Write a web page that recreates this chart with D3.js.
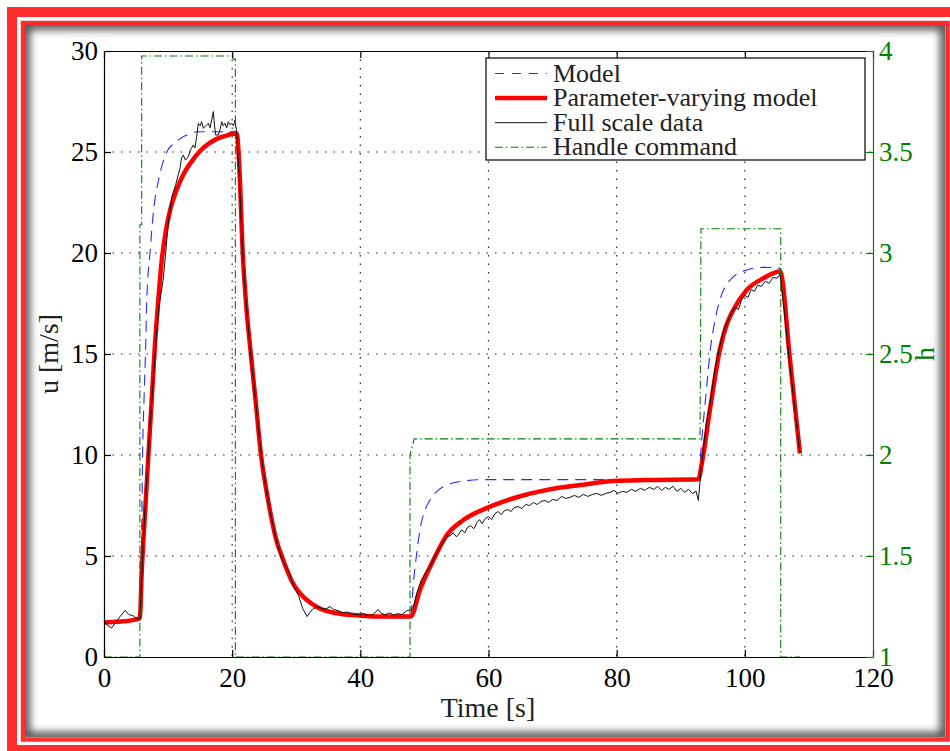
<!DOCTYPE html>
<html>
<head>
<meta charset="utf-8">
<script src="https://cdn.jsdelivr.net/npm/d3@7"></script>
<style>
  html, body { margin: 0; padding: 0; background: #fff; }
  svg { display: block; }
</style>
</head>
<body>
<div id="chart"></div>
<script>
// time axis ticks and the two y-axis ticks
const timeTicks = [0, 20, 40, 60, 80, 100, 120];
const speedTicks = [0, 5, 10, 15, 20, 25, 30];
const handleTicks = [1, 1.5, 2, 2.5, 3, 3.5, 4];

// Model (blue dashed)
const modelT = [0, 2, 4, 5.6, 5.88, 6.03, 6.24, 6.55, 6.66, 7.18, 7.7, 8.5, 9.3, 9.78, 10.8, 11.86, 13.0, 14.47, 20.72,
  21.14, 21.65, 22.17, 22.95, 23.7, 24.5, 25.5, 26.8, 27.85, 29.4, 31.5, 33.5, 36.1, 39.7, 43.9, 47.86,
  48.27, 48.8, 49.3, 50.1, 50.87, 52.2, 53.5, 56.07, 59.7, 70, 80, 92.75,
  93.27, 94.05, 94.55, 95.35, 96.1, 97.7, 100.3, 102.9, 105.5, 107.05, 108.6];
const modelU = [1.75, 1.78, 1.8, 1.85, 6.1, 10.2, 12.7, 16.0, 17.6, 20.0, 22.0, 23.6, 24.6, 25.0, 25.4, 25.65, 25.85, 26.0, 26.0,
  24.1, 20.0, 17.5, 14.9, 12.55, 10.0, 7.96, 5.9, 4.9, 3.7, 2.86, 2.43, 2.18, 2.06, 2.0, 2.0,
  3.65, 5.13, 6.29, 7.28, 7.77, 8.27, 8.51, 8.71, 8.78, 8.78, 8.78, 8.8,
  10.74, 13.38, 15.03, 16.68, 17.67, 18.66, 19.16, 19.29, 19.24, 14.7, 10.08];

// Parameter-varying model (red)
const pvmT = [0, 2, 4, 5.6, 5.88, 6.4, 6.91, 7.44, 7.96, 8.47, 9.0, 9.6, 10.3, 11.3, 12.4, 13.6, 15.0, 16.3,
  17.6, 19.0, 20.2, 20.72, 21.14, 21.65, 22.17, 22.95, 23.7, 24.5, 25.5, 26.8, 27.85, 29.4, 31.5, 33.5,
  36.1, 39.7, 43.9, 47.86, 49.3, 51.4, 53.5, 56.07, 59.98, 63.9, 69.1, 74.3, 79.5, 84.7, 92.75,
  93.3, 94.55, 96.1, 97.1, 98.2, 100.3, 102.9, 105.5, 107.05, 108.6];
const pvmU = [1.7, 1.75, 1.8, 1.92, 4.15, 7.1, 9.9, 12.7, 15.5, 17.65, 19.6, 21.0, 22.1, 23.1, 23.9, 24.5, 25.05, 25.4,
  25.65, 25.8, 25.9, 25.9, 24.1, 20.0, 17.5, 14.9, 12.55, 10.0, 7.96, 5.9, 4.9, 3.7, 2.86, 2.43,
  2.18, 2.06, 2.0, 2.0, 3.32, 4.8, 6.04, 6.78, 7.41, 7.86, 8.27, 8.51, 8.71, 8.76, 8.8,
  9.6, 12.23, 15.2, 16.4, 17.18, 18.17, 18.75, 19.08, 14.7, 10.08];

// Full scale data (black)
const dataT = [0, 0.6, 1.2, 1.8, 2.5, 3.28, 3.9, 4.5, 5.1, 5.6, 6.14, 6.66, 7.2, 7.7, 8.2, 8.6, 9.2, 9.6, 10.0,
  10.56, 11.2, 11.86, 12.1, 12.38, 12.7, 13.16, 13.5, 13.94, 14.2, 14.46, 14.72, 15.0, 15.24, 15.5, 15.9,
  16.28, 16.55, 16.8, 17.06, 17.25, 17.43, 17.84, 18.1, 18.37, 18.6, 18.88, 19.15, 19.4, 19.65, 19.93,
  20.2, 20.44, 20.7, 21.1, 21.6, 22.1, 22.6, 23.0, 23.6, 24.2, 24.7, 25.3, 26.0, 26.8, 27.6, 28.3, 28.9,
  29.6, 30.4, 31.0, 31.7, 32.1, 32.5, 33.3, 34.0, 34.6, 35.3, 35.8, 36.5, 37.2, 38.0, 38.8, 39.7, 40.5,
  41.2, 41.8, 42.3, 42.8, 43.3, 43.9, 44.6, 45.2, 45.9, 46.5, 47.2, 47.86, 48.3, 48.8, 49.5, 50.2, 50.87,
  51.5, 52.2, 52.8, 53.5, 54.0, 54.5, 55.0, 55.3, 55.8, 56.3, 56.7, 57.2, 57.7, 58.2, 58.6, 59.0, 59.5,
  60.0, 60.5, 61.0, 61.5, 62.0, 62.5, 63.0, 63.5, 64.0, 64.6, 65.2, 65.8, 66.4, 67.0, 67.6, 68.2, 68.8,
  69.4, 70.0, 70.7, 71.4, 72.0, 72.7, 73.4, 74.1, 74.8, 75.5, 76.2, 76.9, 77.6, 78.3, 79.0, 79.6, 80.2,
  80.9, 81.6, 82.3, 83.0, 83.7, 84.4, 85.1, 85.8, 86.4, 87.0, 87.6, 88.2, 88.8, 89.4, 90.0, 90.6, 91.2,
  91.8, 92.4, 92.75, 93.2, 94.0, 94.6, 95.3, 96.1, 96.7, 97.3, 98.0, 98.5, 99.0, 99.5, 100.0, 100.5,
  101.0, 101.5, 102.0, 102.6, 103.2, 103.8, 104.4, 105.0, 105.5, 106.2, 107.0, 107.8, 108.6];
const dataU = [1.75, 1.55, 1.43, 1.7, 2.0, 2.3, 2.1, 2.05, 1.9, 1.85, 5.8, 8.75, 11.5, 13.8, 16.0, 17.4, 18.6, 19.9, 21.4,
  22.75, 23.4, 24.2, 24.7, 24.85, 24.6, 24.77, 25.1, 25.35, 25.2, 25.76, 26.42, 26.3, 26.5, 26.17, 26.3,
  26.42, 26.2, 26.58, 27.0, 26.3, 25.84, 25.84, 26.1, 26.5, 26.3, 26.42, 26.2, 26.5, 26.35, 26.42,
  26.3, 26.58, 26.0, 23.8, 20.3, 17.9, 16.0, 14.6, 12.9, 11.0, 9.6, 8.3, 7.1, 5.9, 5.0, 4.5, 4.2,
  3.5, 3.0, 2.4, 2.0, 2.2, 2.35, 2.5, 2.4, 2.38, 2.5, 2.35, 2.3, 2.2, 2.22, 2.12, 2.1, 2.15,
  2.05, 2.07, 2.2, 2.35, 2.15, 2.1, 2.18, 2.08, 2.15, 2.1, 2.28, 2.33, 2.5, 3.15, 3.8, 4.2, 4.47,
  4.9, 5.3, 5.6, 5.96, 6.0, 6.15, 5.95, 6.05, 6.3, 6.15, 6.4, 6.5, 6.35, 6.65, 6.8, 6.6, 6.85,
  6.95, 6.8, 7.1, 7.2, 7.05, 7.25, 7.3, 7.2, 7.4, 7.45, 7.35, 7.55, 7.5, 7.65, 7.55, 7.7, 7.75,
  7.65, 7.8, 7.75, 7.95, 7.85, 7.9, 8.0, 7.9, 8.05, 7.95, 8.05, 8.1, 8.0, 8.1, 8.15, 8.25, 8.1,
  8.2, 8.15, 8.3, 8.2, 8.35, 8.25, 8.4, 8.3, 8.45, 8.25, 8.4, 8.3, 8.45, 8.2, 8.35, 8.15, 8.3,
  8.1, 8.2, 7.75, 9.4, 11.6, 12.6, 14.2, 15.4, 16.2, 16.6, 17.1, 17.3, 17.2, 17.7, 17.9, 17.8,
  18.2, 18.1, 18.4, 18.35, 18.6, 18.5, 18.8, 18.75, 18.95, 17.0, 14.5, 12.3, 10.1];

// Handle command (green, right axis)
const handleT = [0, 5.6, 5.6, 5.88, 5.88, 20.0, 20.2, 20.5, 20.5, 47.75, 47.75, 48.4, 93.0, 93.1, 93.15, 105.6, 105.6, 108.6];
const handleH = [1, 1, 3.14, 3.14, 3.975, 3.975, 3.96, 3.96, 1, 1, 2.0, 2.08, 2.08, 2.6, 3.12, 3.12, 1, 1];

const legendLabels = ["Model", "Parameter-varying model", "Full scale data", "Handle command"];

const W = 950, H = 751;
const FONT = "'Liberation Serif', 'Times New Roman', serif";
const GREEN = "#008000";

const svg = d3.select("#chart").append("svg")
    .attr("width", W)
    .attr("height", H);

// ---- frame ----
const defs = svg.append("defs");
defs.append("clipPath").attr("id", "panelClip")
    .append("rect").attr("x", 25).attr("y", 25).attr("width", 920).attr("height", 712);
defs.append("filter").attr("id", "soft")
    .attr("x", "-10%").attr("y", "-10%").attr("width", "120%").attr("height", "120%")
    .append("feGaussianBlur").attr("stdDeviation", 4.5);

svg.append("rect").attr("width", W).attr("height", H).attr("fill", "#fff");
svg.append("rect")
    .attr("x", 12).attr("y", 12).attr("width", 948).attr("height", 738)
    .attr("fill", "none").attr("stroke", "#ff2e2e").attr("stroke-width", 10);
svg.append("rect")
    .attr("x", 23).attr("y", 23).attr("width", 924.5).attr("height", 716.5)
    .attr("fill", "#fff").attr("stroke", "#ff2e2e").attr("stroke-width", 4.5);
svg.append("g").attr("clip-path", "url(#panelClip)")
    .append("rect")
    .attr("x", 25).attr("y", 25).attr("width", 920).attr("height", 712)
    .attr("fill", "none").attr("stroke", "#000").attr("stroke-width", 9)
    .attr("opacity", 0.75)
    .attr("filter", "url(#soft)");

// ---- scales ----
const x = d3.scaleLinear().domain([0, 120]).range([104, 873]);
const yL = d3.scaleLinear().domain([0, 30]).range([657, 51]);
const yR = d3.scaleLinear().domain([1, 4]).range([657, 51]);

// ---- grid ----
const grid = svg.append("g")
    .attr("stroke", "#222").attr("stroke-width", 1.2)
    .attr("stroke-dasharray", "1.5,7");
grid.selectAll(".gx")
    .data(timeTicks.slice(1, -1))
    .enter().append("line")
    .attr("x1", d => x(d)).attr("x2", d => x(d))
    .attr("y1", yL(30)).attr("y2", yL(0));
grid.selectAll(".gy")
    .data(speedTicks.slice(1, -1))
    .enter().append("line")
    .attr("x1", x(0)).attr("x2", x(120))
    .attr("y1", d => yL(d)).attr("y2", d => yL(d));

// ---- series ----
const zip = (ts, vs) => ts.map((t, i) => [t, vs[i]]);
const lineL = d3.line().x(d => x(d[0])).y(d => yL(d[1]));
const lineR = d3.line().x(d => x(d[0])).y(d => yR(d[1]));
const smoothL = d3.line().x(d => x(d[0])).y(d => yL(d[1])).curve(d3.curveMonotoneX);

svg.append("path")
    .attr("d", smoothL(zip(modelT, modelU)))
    .attr("fill", "none").attr("stroke", "#2a2aff").attr("stroke-width", 1.1)
    .attr("stroke-dasharray", "11,7");
svg.append("path")
    .attr("d", smoothL(zip(pvmT, pvmU)))
    .attr("fill", "none").attr("stroke", "#ff0000").attr("stroke-width", 4.5)
    .attr("stroke-linejoin", "round");
svg.append("path")
    .attr("d", lineL(zip(dataT, dataU)))
    .attr("fill", "none").attr("stroke", "#111").attr("stroke-width", 1)
    .attr("stroke-linejoin", "round");
svg.append("path")
    .attr("d", lineR(zip(handleT, handleH)))
    .attr("fill", "none").attr("stroke", GREEN).attr("stroke-width", 1.1)
    .attr("stroke-dasharray", "8,3,1.5,3");

// ---- axes ----
function styleAxis (g, color) {
    g.selectAll("path.domain").attr("stroke", color).attr("stroke-width", 1.2);
    g.selectAll(".tick line").attr("stroke", color).attr("stroke-width", 1.2);
    g.selectAll(".tick text")
        .attr("fill", color)
        .style("font-family", FONT)
        .style("font-size", "27px");
}

svg.append("g")
    .attr("transform", `translate(0,${yL(30)})`)
    .call(d3.axisTop(x).tickValues(timeTicks).tickSize(-7).tickSizeOuter(0).tickFormat(""))
    .call(g => styleAxis(g, "#000"));
svg.append("g")
    .attr("transform", `translate(0,${yL(0)})`)
    .call(d3.axisBottom(x).tickValues(timeTicks).tickSize(-7).tickSizeOuter(0).tickPadding(11))
    .call(g => styleAxis(g, "#000"));
svg.append("g")
    .attr("transform", `translate(${x(0)},0)`)
    .call(d3.axisLeft(yL).tickValues(speedTicks).tickSize(-7).tickSizeOuter(0).tickPadding(6))
    .call(g => styleAxis(g, "#000"));
svg.append("g")
    .attr("transform", `translate(${x(120)},0)`)
    .call(d3.axisRight(yR).tickValues(handleTicks).tickSize(-7).tickSizeOuter(0).tickPadding(6)
        .tickFormat(d => String(d)))
    .call(g => styleAxis(g, GREEN));

// axis titles
svg.append("text")
    .attr("x", 488).attr("y", 717)
    .attr("text-anchor", "middle")
    .style("font-family", FONT).style("font-size", "28px").attr("fill", "#222")
    .text("Time [s]");
svg.append("text")
    .attr("transform", "translate(58,354) rotate(-90)")
    .attr("text-anchor", "middle")
    .style("font-family", FONT).style("font-size", "28px").attr("fill", "#222")
    .text("u [m/s]");
svg.append("text")
    .attr("transform", "translate(934,354) rotate(-90)")
    .attr("text-anchor", "middle")
    .style("font-family", FONT).style("font-size", "28px").attr("fill", GREEN)
    .text("h");

// ---- legend ----
const legend = svg.append("g");
legend.append("rect")
    .attr("x", 486).attr("y", 58).attr("width", 379).attr("height", 102)
    .attr("fill", "#fff").attr("stroke", "#000").attr("stroke-width", 1.2);
const legendStyle = [
    { stroke: "#2a2aff", width: 1.1, dash: "9,8" },
    { stroke: "#ff0000", width: 4.5, dash: null },
    { stroke: "#111", width: 1, dash: null },
    { stroke: GREEN, width: 1.1, dash: "8,3,1.5,3" }
];
const rows = legend.selectAll(".row")
    .data(legendLabels)
    .enter().append("g")
    .attr("transform", (d, i) => `translate(0,${73.5 + i * 24.6})`);
rows.append("line")
    .attr("x1", 495).attr("x2", 547)
    .attr("stroke", (d, i) => legendStyle[i].stroke)
    .attr("stroke-width", (d, i) => legendStyle[i].width)
    .attr("stroke-dasharray", (d, i) => legendStyle[i].dash);
rows.append("text")
    .attr("x", 553).attr("y", 8)
    .style("font-family", FONT).style("font-size", "26px").attr("fill", "#222")
    .text(d => d);
</script>
</body>
</html>
